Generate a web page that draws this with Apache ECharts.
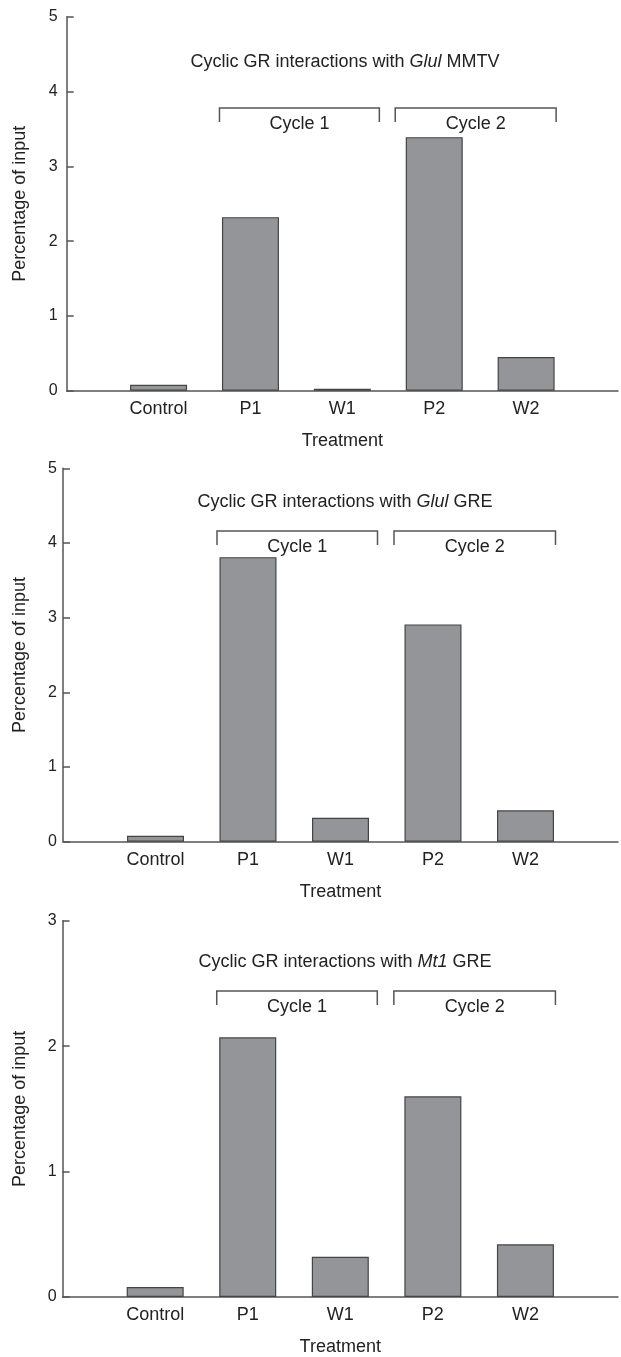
<!DOCTYPE html>
<html><head><meta charset="utf-8">
<script src="https://cdn.jsdelivr.net/npm/echarts@6/dist/echarts.min.js"></script>
<style>html,body{margin:0;padding:0;background:#fff}#c{width:621px;height:1357px}</style>
</head><body><div id="c"></div>
<script>
// Data
const categories = ['', 'Control', 'P1', 'W1', 'P2', 'W2', ''];
const glulMmtv = [null, 0.08, 2.32, 0.025, 3.39, 0.45, null];
const glulGre  = [null, 0.08, 3.81, 0.32, 2.91, 0.42, null];
const mt1Gre   = [null, 0.08, 2.07, 0.32, 1.60, 0.42, null];
const yMax = [5, 5, 3];
const yInterval = 1;
const panelTitles = [
  'Cyclic GR interactions with {i|Glul} MMTV',
  'Cyclic GR interactions with {i|Glul} GRE',
  'Cyclic GR interactions with {i|Mt1} GRE'
];
const cycleLabels = ['Cycle 1', 'Cycle 2'];
const cycleGroups = [['P1', 'W1'], ['P2', 'W2']];
const xName = 'Treatment';
const yName = 'Percentage of input';

// Layout (pixels)
const FONT = '"Liberation Sans", Arial, Helvetica, sans-serif';
const TXT = '#222';
const AX = '#555';
const grids = [
  {left: 66.7, top: 16.7, height: 374, width: 565.8},
  {left: 63, top: 468.3, height: 373.4, width: 570},
  {left: 62.6, top: 920.7, height: 376.6, width: 570}
];
const titleTops = [53, 492.7, 952.7];
const yLabelMargin = [9, 6, 6];
const yNameGap = [38, 34, 34];
const bracketLevel = [3.78, 4.16, 2.44];
const bracketOffsets = [[-31, 37], [-39, 30]];

const seriesData = [glulMmtv, glulGre, mt1Gre];

const chart = echarts.init(document.getElementById('c'), null, {renderer: 'canvas'});
const option = {
  animation: false,
  backgroundColor: '#fff',
  textStyle: {fontFamily: FONT},
  title: panelTitles.map((t, i) => ({
    text: t, left: 345, top: titleTops[i], textAlign: 'center', padding: 0,
    textStyle: {fontSize: 18, fontWeight: 'normal', color: TXT, fontFamily: FONT,
      rich: {i: {fontStyle: 'italic', fontSize: 18, color: TXT, fontFamily: FONT}}}
  })),
  grid: grids,
  xAxis: grids.map((g, i) => ({
    type: 'category', gridIndex: i, data: categories, boundaryGap: false,
    axisLine: {lineStyle: {color: AX, width: 1.5}},
    axisTick: {show: false},
    axisLabel: {fontSize: 18, color: TXT, margin: 9, interval: 0, fontFamily: FONT},
    name: xName, nameLocation: 'middle', nameGap: 41,
    nameTextStyle: {fontSize: 18, color: TXT, fontFamily: FONT}
  })),
  yAxis: grids.map((g, i) => ({
    type: 'value', gridIndex: i, min: 0, max: yMax[i], interval: yInterval,
    axisLine: {show: true, lineStyle: {color: AX, width: 1.5}},
    axisTick: {show: true, inside: true, length: 7, lineStyle: {color: AX, width: 1.5}},
    splitLine: {show: false},
    axisLabel: {fontSize: 16, color: TXT, margin: yLabelMargin[i], fontFamily: FONT},
    name: yName, nameLocation: 'middle', nameGap: yNameGap[i], nameRotate: 90,
    nameTextStyle: {fontSize: 18, color: TXT, fontFamily: FONT}
  })),
  series: seriesData.map((d, i) => ({
    type: 'bar', xAxisIndex: i, yAxisIndex: i, data: d, barWidth: 57,
    itemStyle: {color: '#939598', borderColor: '#444', borderWidth: 1.2}
  }))
};
chart.setOption(option);

const graphics = [];
for (let g = 0; g < 3; g++) {
  cycleGroups.forEach((grp, k) => {
    const a = chart.convertToPixel({gridIndex: g}, [grp[0], bracketLevel[g]]);
    const b = chart.convertToPixel({gridIndex: g}, [grp[1], bracketLevel[g]]);
    const x1 = a[0] + bracketOffsets[k][0];
    const x2 = b[0] + bracketOffsets[k][1];
    const y = a[1];
    graphics.push({type: 'polyline', silent: true,
      shape: {points: [[x1, y + 14], [x1, y], [x2, y], [x2, y + 14]]},
      style: {stroke: AX, lineWidth: 1.5, fill: null}});
    graphics.push({type: 'text', silent: true, x: (x1 + x2) / 2, y: y + 16,
      style: {text: cycleLabels[k], fontSize: 18, fontFamily: FONT, fill: TXT, align: 'center', verticalAlign: 'middle'}});
  });
}
chart.setOption({graphic: graphics});
</script></body></html>
